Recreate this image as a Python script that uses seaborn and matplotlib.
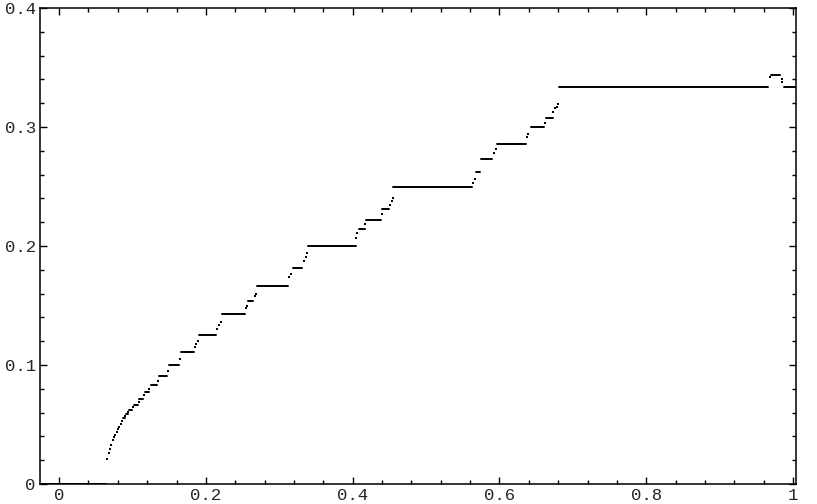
import numpy as np
import pandas as pd
import matplotlib
matplotlib.use("Agg")
import matplotlib.pyplot as plt
import seaborn as sns
from matplotlib.ticker import MultipleLocator, FuncFormatter

# ── data ─────────────────────────────────────────────────────
# flat steps (start x, end x, level)
step_x0 = [-0.024, 0.0877, 0.0913, 0.0954, 0.1026, 0.1094, 0.1167, 0.1249,
           0.1358, 0.1499, 0.1667, 0.1910, 0.2221, 0.2575, 0.2693, 0.3190,
           0.3397, 0.4090, 0.4183, 0.4405, 0.4555, 0.5686, 0.5750, 0.5960,
           0.6426, 0.6640, 0.6810, 0.9700, 0.9873]
step_x1 = [0.064, 0.0895, 0.0940, 0.0995, 0.1076, 0.1140, 0.1222, 0.1339,
           0.1467, 0.1639, 0.1840, 0.2139, 0.2534, 0.2647, 0.3120, 0.3310,
           0.4040, 0.4165, 0.4387, 0.4496, 0.5630, 0.5740, 0.5900, 0.6360,
           0.6610, 0.6725, 0.9664, 0.9827, 1.0045]
step_y = [0.0, 0.0556, 0.0588, 0.0625, 0.0667, 0.0714, 0.0769, 0.0833,
          0.0909, 0.1000, 0.1111, 0.1250, 0.1429, 0.1538, 0.1667, 0.1818,
          0.2000, 0.2143, 0.2222, 0.2308, 0.2500, 0.2625, 0.2727, 0.2857,
          0.3000, 0.3077, 0.3333, 0.3438, 0.3333]

# isolated points between the steps
dot_x = [0.0649, 0.0677, 0.0695, 0.0713, 0.0731, 0.0749, 0.0767, 0.0786,
         0.0804, 0.0822, 0.0840, 0.0858, 0.0904, 0.0945, 0.1008, 0.1085,
         0.1158, 0.1231, 0.1345, 0.1485, 0.1649, 0.1848, 0.1866, 0.1889,
         0.2148, 0.2175, 0.2211, 0.2548, 0.2561, 0.2666, 0.2684, 0.3134,
         0.3161, 0.3333, 0.3361, 0.3379, 0.4050, 0.4064, 0.4173, 0.4396,
         0.4510, 0.4537, 0.4546, 0.5640, 0.5668, 0.5922, 0.5950, 0.6370,
         0.6394, 0.6620, 0.6734, 0.6757, 0.6780, 0.6803, 0.9682, 0.9846,
         0.9855]
dot_y = [0.0207, 0.0262, 0.0296, 0.0330, 0.0369, 0.0392, 0.0411, 0.0436,
         0.0459, 0.0481, 0.0503, 0.0531, 0.0575, 0.0605, 0.0645, 0.0690,
         0.0746, 0.0799, 0.0866, 0.0950, 0.1051, 0.1151, 0.1177, 0.1199,
         0.1300, 0.1333, 0.1364, 0.1482, 0.1499, 0.1579, 0.1599, 0.1738,
         0.1767, 0.1873, 0.1906, 0.1940, 0.2069, 0.2107, 0.2186, 0.2270,
         0.2348, 0.2382, 0.2404, 0.2527, 0.2564, 0.2778, 0.2812, 0.2912,
         0.2941, 0.3036, 0.3122, 0.3159, 0.3164, 0.3197, 0.3416, 0.3405,
         0.3377]

# ── build long-form frames ───────────────────────────────────
seg = pd.DataFrame({
    "seg": np.repeat(np.arange(len(step_y)), 2),
    "x": np.column_stack([step_x0, step_x1]).ravel(),
    "y": np.repeat(step_y, 2),
})
dots = pd.DataFrame({"x": dot_x, "y": dot_y})

# ── plot ─────────────────────────────────────────────────────
sns.set_style("ticks")
plt.rcParams["font.family"] = ["Liberation Mono", "DejaVu Sans Mono"]

fig = plt.figure(figsize=(8.17, 5.04), dpi=100)
ax = fig.add_axes([40 / 817, 20 / 504, 756 / 817, 476 / 504])

sns.lineplot(data=seg, x="x", y="y", units="seg", estimator=None,
             sort=False, color="black", lw=1.4, ax=ax, legend=False,
             zorder=3)
sns.scatterplot(data=dots, x="x", y="y", color="black", marker="s",
                s=2.0, linewidth=0, ax=ax, legend=False, zorder=3)

ax.set_xlim(-0.026, 1.004)
ax.set_ylim(0, 0.4)
ax.set_xlabel("")
ax.set_ylabel("")

ax.xaxis.set_major_locator(MultipleLocator(0.2))
ax.xaxis.set_minor_locator(MultipleLocator(0.04))
ax.yaxis.set_major_locator(MultipleLocator(0.1))
ax.yaxis.set_minor_locator(MultipleLocator(0.02))
fmt = FuncFormatter(lambda v, p: f"{round(v, 2):g}")
ax.xaxis.set_major_formatter(fmt)
ax.yaxis.set_major_formatter(fmt)

ax.tick_params(which="both", direction="in", top=True, right=True,
               color="black", width=1.0)
ax.tick_params(which="major", length=5, labelsize=12.5, pad=3)
ax.tick_params(which="minor", length=3)
for s in ax.spines.values():
    s.set_visible(True)
    s.set_color("black")
    s.set_linewidth(1.1)

plt.savefig("out.png", dpi=100)
